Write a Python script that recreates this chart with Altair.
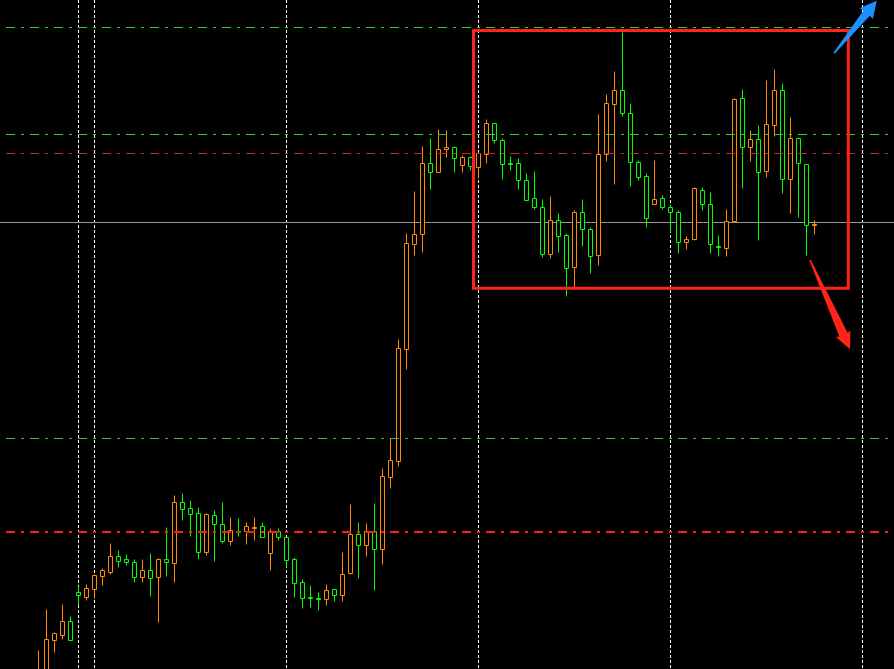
import math

import altair as alt
import pandas as pd

# ---------------------------------------------------------------------------
# OHLC quotes, one entry per bar (price in points)
# ---------------------------------------------------------------------------
bar_open = [
    -31, -31, 29, 34, 48, 77, 72, 80, 93, 97,
    113, 110, 107, 92, 99, 92, 110, 106, 167, 161,
    156, 117, 154, 145, 128, 138, 138, 141, 143, 116,
    138, 132, 110, 87, 72, 71, 70, 80, 74, 96,
    135, 124, 138, 120, 192, 208, 320, 425, 435, 506,
    497, 520, 522, 504, 512, 502, 515, 546, 529, 506,
    506, 489, 471, 462, 415, 449, 434, 402, 457, 440,
    414, 515, 565, 579, 556, 507, 493, 465, 471, 462,
    457, 427, 430, 479, 465, 423, 421, 448, 571, 522,
    530, 498, 544, 579, 490, 531, 505, 444,
]
bar_high = [
    19, 60, 37, 65, 53, 83, 85, 95, 101, 126,
    119, 115, 110, 110, 116, 111, 142, 174, 176, 169,
    162, 156, 159, 167, 152, 151, 147, 152, 147, 141,
    141, 132, 112, 90, 84, 77, 85, 80, 117, 165,
    147, 146, 166, 201, 231, 330, 436, 478, 523, 531,
    540, 539, 523, 514, 513, 517, 550, 546, 531, 513,
    511, 496, 498, 470, 473, 456, 436, 459, 470, 442,
    555, 575, 598, 637, 566, 509, 496, 509, 474, 465,
    459, 433, 482, 482, 477, 434, 460, 571, 580, 539,
    544, 589, 600, 586, 552, 532, 505, 449,
]
bar_low = [
    -36, -36, 17, 30, 29, 64, 69, 71, 84, 95,
    102, 104, 87, 87, 73, 47, 93, 87, 149, 133,
    110, 114, 108, 126, 124, 133, 125, 129, 132, 99,
    129, 102, 72, 61, 62, 59, 64, 68, 68, 95,
    91, 113, 79, 105, 181, 203, 300, 414, 417, 480,
    497, 512, 497, 497, 499, 491, 506, 526, 490, 499,
    480, 469, 460, 412, 411, 417, 373, 382, 423, 396,
    404, 508, 485, 553, 483, 489, 442, 465, 460, 437,
    416, 420, 429, 459, 416, 413, 413, 448, 481, 508,
    429, 492, 533, 476, 456, 452, 414, 435,
]
bar_close = [
    -6, 30, 36, 48, 29, 74, 81, 94, 99, 113,
    108, 107, 92, 99, 91, 110, 107, 167, 160, 155,
    117, 155, 145, 128, 139, 137, 143, 142, 132, 138,
    132, 109, 86, 71, 71, 70, 79, 74, 95, 135,
    124, 138, 120, 193, 209, 321, 426, 435, 506, 497,
    520, 522, 511, 512, 503, 516, 546, 529, 505, 505,
    489, 469, 462, 415, 449, 433, 401, 457, 440, 413,
    515, 566, 579, 556, 507, 492, 451, 470, 462, 457,
    427, 430, 481, 465, 425, 422, 448, 570, 522, 530,
    497, 545, 579, 490, 531, 506, 444, 445,
]

# Horizontal levels (price) and their kind
level_price = [642, 535, 516, 231, 137.5]
level_kind = ["upper", "upper", "mid", "lower", "base"]
bid_price = [447]

# Period separators (bar index)
separator_bar = [5, 7, 31, 55, 79, 103]

# Consolidation box (bar index range, price range)
box_bars = [54.375, 101.225]
box_prices = [381.3, 639]

# Breakout arrows: tail and tip as (bar index, price)
arrow_names = ["up", "down"]
arrow_tail = [(99.44, 616.2), (96.44, 409.5)]
arrow_tip = [(104.78, 668.8), (101.44, 320.2)]

# ---------------------------------------------------------------------------
# Styling
# ---------------------------------------------------------------------------
W, H = 894, 669
BAR_PX = 8.0
FIRST_BAR_PX = 38.5
X_DOMAIN = [-FIRST_BAR_PX / BAR_PX, (W - FIRST_BAR_PX) / BAR_PX]
Y_DOMAIN = [0.5, H + 0.5]
PX_PER_BAR = W / (X_DOMAIN[1] - X_DOMAIN[0])
PX_PER_POINT = H / (Y_DOMAIN[1] - Y_DOMAIN[0])

BULL = "#ff8c00"
BEAR = "#00ff00"
LEVEL_STYLE = {
    "upper": dict(color="#32cd32", width=1),
    "mid": dict(color="#dc1e1e", width=1),
    "lower": dict(color="#46b446", width=1),
    "base": dict(color="#ff1a1a", width=2),
}
DASH_DOT = [9, 6, 3, 6]
BOX_RED = "#ff2418"
ARROW_STYLE = {
    "up": dict(color="#1e8fff", head_len=16, head_half=8.5, neck_half=4.0, tail_half=0.8),
    "down": dict(color="#ff2418", head_len=16, head_half=8.0, neck_half=4.5, tail_half=0.8),
}

xs = alt.Scale(domain=X_DOMAIN, nice=False, zero=False)
ys = alt.Scale(domain=Y_DOMAIN, nice=False, zero=False)
dir_scale = alt.Scale(domain=["up", "down"], range=[BULL, BEAR])

bars = pd.DataFrame({
    "i": range(len(bar_open)),
    "o": bar_open,
    "h": bar_high,
    "l": bar_low,
    "c": bar_close,
})
bars["dir"] = ["up" if c >= o else "down" for o, c in zip(bars["o"], bars["c"])]
bars["left"] = bars["i"] - 0.25
bars["right"] = bars["i"] + 0.25

# Grid: dotted period separators
separators = alt.Chart(pd.DataFrame({"i": separator_bar})).mark_rule(
    color="white", strokeWidth=1, strokeDash=[3, 2]
).encode(
    x=alt.X("i:Q", scale=xs, axis=None),
    y=alt.value(0),
    y2=alt.value(H),
)

# Current bid line
bid_line = alt.Chart(pd.DataFrame({"p": bid_price})).mark_rule(
    color="#9a9a9a", strokeWidth=1
).encode(
    y=alt.Y("p:Q", scale=ys, axis=None),
    x=alt.value(0),
    x2=alt.value(W),
)

# Candles: wicks first, then hollow bodies on top
wicks = alt.Chart(bars).mark_rule(strokeWidth=1, clip=True).encode(
    x=alt.X("i:Q", scale=xs, axis=None),
    y=alt.Y("l:Q", scale=ys, axis=None),
    y2="h:Q",
    color=alt.Color("dir:N", scale=dir_scale, legend=None),
)
bodies = alt.Chart(bars).mark_rect(fill="black", strokeWidth=1, clip=True).encode(
    x=alt.X("left:Q", scale=xs, axis=None),
    x2="right:Q",
    y=alt.Y("o:Q", scale=ys, axis=None),
    y2="c:Q",
    stroke=alt.Stroke("dir:N", scale=dir_scale, legend=None),
)

# Dash-dot price levels
level_layers = []
for p, kind in zip(level_price, level_kind):
    st = LEVEL_STYLE[kind]
    level_layers.append(
        alt.Chart(pd.DataFrame({"p": [p]})).mark_rule(
            color=st["color"], strokeWidth=st["width"], strokeDash=DASH_DOT
        ).encode(
            y=alt.Y("p:Q", scale=ys, axis=None),
            x=alt.value(6),
            x2=alt.value(W),
        )
    )

# Consolidation box
box = alt.Chart(pd.DataFrame({
    "x0": [box_bars[0]], "x1": [box_bars[1]],
    "y0": [box_prices[0]], "y1": [box_prices[1]],
})).mark_rect(fillOpacity=0, stroke=BOX_RED, strokeWidth=3).encode(
    x=alt.X("x0:Q", scale=xs, axis=None),
    x2="x1:Q",
    y=alt.Y("y0:Q", scale=ys, axis=None),
    y2="y1:Q",
)


def arrow_shape(length, head_len, head_half, neck_half, tail_half):
    """Arrow outline in symbol units, tip at (0,-1), tail at (0,1)."""
    s = 2.0 / length
    yb = -1 + head_len * s
    pts = [
        (0, -1),
        (head_half * s, yb + 0.02),
        (neck_half * s, yb),
        (tail_half * s, 1),
        (-tail_half * s, 1),
        (-neck_half * s, yb),
        (-head_half * s, yb + 0.02),
    ]
    return "M" + " L".join(f"{x:.4f},{y:.4f}" for x, y in pts) + " Z"


arrow_layers = []
for name, tail, tip in zip(arrow_names, arrow_tail, arrow_tip):
    st = ARROW_STYLE[name]
    dx = (tip[0] - tail[0]) * PX_PER_BAR
    dy = -(tip[1] - tail[1]) * PX_PER_POINT
    length = math.hypot(dx, dy)
    angle = math.degrees(math.atan2(dx, -dy)) % 360
    center = pd.DataFrame({
        "i": [(tail[0] + tip[0]) / 2],
        "p": [(tail[1] + tip[1]) / 2],
    })
    arrow_layers.append(
        alt.Chart(center).mark_point(
            shape=arrow_shape(length, st["head_len"], st["head_half"],
                              st["neck_half"], st["tail_half"]),
            size=length * length,
            angle=angle,
            filled=True,
            color=st["color"],
            opacity=1,
            strokeWidth=0,
        ).encode(
            x=alt.X("i:Q", scale=xs, axis=None),
            y=alt.Y("p:Q", scale=ys, axis=None),
        )
    )

chart = alt.layer(
    separators, bid_line, wicks, bodies, *level_layers, box, *arrow_layers
).properties(
    width=W,
    height=H,
    background="#000000",
    padding=0,
    autosize=alt.AutoSizeParams(type="none"),
).configure_view(stroke=None)

chart.save("out.html", embed_options={"renderer": "svg", "actions": False})
